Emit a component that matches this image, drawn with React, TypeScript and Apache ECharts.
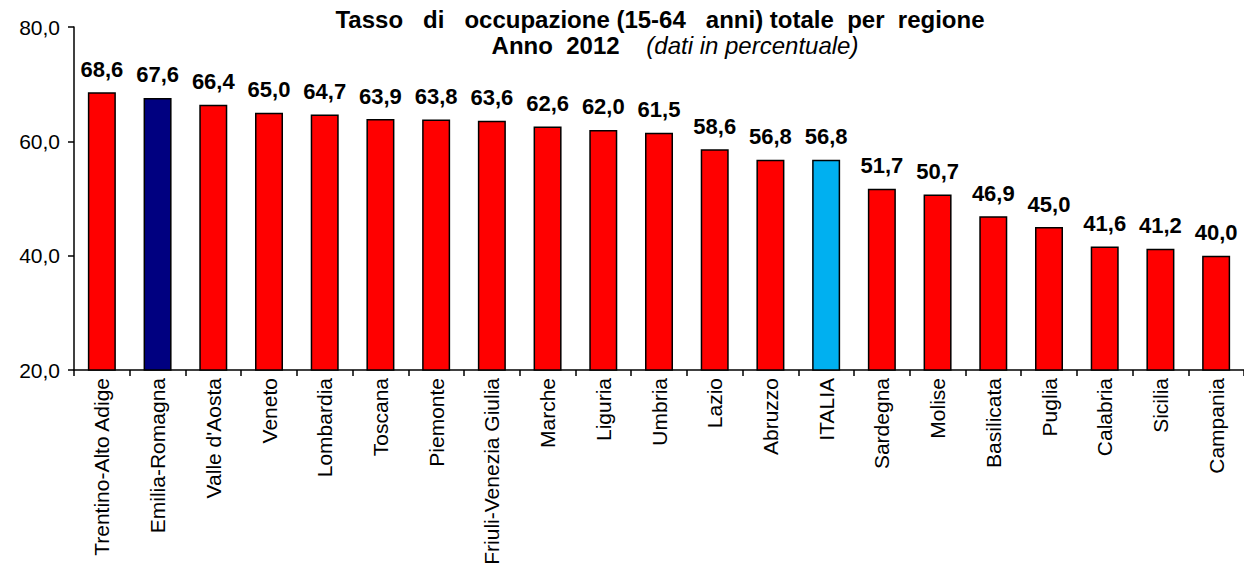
import React, { useEffect, useRef } from "react";
import * as echarts from "echarts";

const categories = [
  "Trentino-Alto Adige", "Emilia-Romagna", "Valle d'Aosta", "Veneto", "Lombardia",
  "Toscana", "Piemonte", "Friuli-Venezia Giulia", "Marche", "Liguria", "Umbria",
  "Lazio", "Abruzzo", "ITALIA", "Sardegna", "Molise", "Basilicata", "Puglia",
  "Calabria", "Sicilia", "Campania",
];
const values = [68.6, 67.6, 66.4, 65.0, 64.7, 63.9, 63.8, 63.6, 62.6, 62.0, 61.5, 58.6, 56.8, 56.8, 51.7, 50.7, 46.9, 45.0, 41.6, 41.2, 40.0];
const highlightRegion = "Emilia-Romagna";
const nationalTotal = "ITALIA";
const yTicks = { min: 20, max: 80, interval: 20 };
const titleLine1 = "Tasso   di   occupazione (15-64   anni) totale  per  regione";
const titleYear = "Anno  2012";
const titleNote = "(dati in percentuale)";

const FONT = "'Liberation Sans', Arial, sans-serif";
const fmt = (v: number) => v.toFixed(1).replace(".", ",");

export default function App() {
  const ref = useRef<HTMLDivElement>(null);
  useEffect(() => {
    if (!ref.current) return;
    const chart = echarts.init(ref.current, undefined, { renderer: "svg" });
    chart.setOption({
      animation: false,
      backgroundColor: "#ffffff",
      textStyle: { fontFamily: FONT },
      graphic: [
        {
          type: "text",
          x: 660,
          y: 19,
          style: {
            text: titleLine1,
            align: "center",
            verticalAlign: "middle",
            fontFamily: FONT,
            fontSize: 24,
            fontWeight: "bold",
            fill: "#000",
          },
        },
        {
          type: "text",
          x: 675,
          y: 45,
          style: {
            text: "{b|" + titleYear + "}{s|    }{i|" + titleNote + "}",
            align: "center",
            verticalAlign: "middle",
            rich: {
              b: { fontFamily: FONT, fontSize: 24, fontWeight: "bold", fill: "#000" },
              s: { fontFamily: FONT, fontSize: 24, fill: "#000" },
              i: { fontFamily: FONT, fontSize: 24, fontStyle: "italic", fontWeight: "normal", fill: "#000" },
            },
          },
        },
      ],
      grid: { left: 74, right: -4, top: 27, bottom: 200, containLabel: false },
      xAxis: {
        type: "category",
        data: categories,
        boundaryGap: true,
        axisLine: { show: true, lineStyle: { color: "#000", width: 1.5 } },
        axisTick: { show: true, length: 6, lineStyle: { color: "#000", width: 1.5 } },
        axisLabel: {
          rotate: 90,
          interval: 0,
          margin: 8,
          fontFamily: FONT,
          fontSize: 21,
          color: "#000",
        },
      },
      yAxis: {
        type: "value",
        min: yTicks.min,
        max: yTicks.max,
        interval: yTicks.interval,
        axisLine: { show: true, lineStyle: { color: "#000", width: 1.5 } },
        axisTick: { show: true, length: 6, lineStyle: { color: "#000", width: 1.5 } },
        splitLine: { show: false },
        axisLabel: {
          formatter: (v: number) => fmt(v),
          fontFamily: FONT,
          fontSize: 21,
          color: "#000",
          margin: 14,
        },
      },
      series: [
        {
          type: "bar",
          barWidth: 28,
          data: categories.map((c, i) => ({
            value: values[i],
            itemStyle: {
              color: c === highlightRegion ? "#000080" : c === nationalTotal ? "#00b0f0" : "#ff0000",
              borderColor: "#000",
              borderWidth: 1.5,
            },
          })),
          label: {
            show: true,
            position: "top",
            distance: 12,
            formatter: (p: any) => fmt(p.value),
            fontFamily: FONT,
            fontSize: 22,
            fontWeight: "bold",
            color: "#000",
          },
        },
      ],
    });
    return () => chart.dispose();
  }, []);
  return (
    <div
      ref={ref}
      style={{ position: "fixed", left: 0, top: 0, width: 1244, height: 570 }}
    />
  );
}
